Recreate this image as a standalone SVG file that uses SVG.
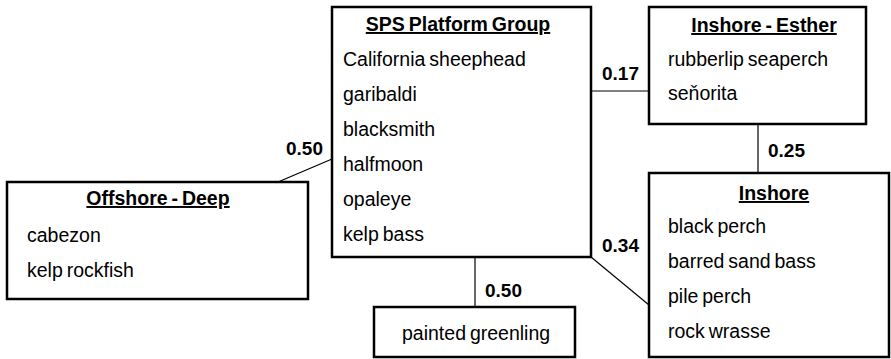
<svg xmlns="http://www.w3.org/2000/svg" width="891" height="359" viewBox="0 0 891 359">
<style>
.box{fill:#fff;stroke:#000;stroke-width:2.5}
.t{font-family:"Liberation Sans",Arial,sans-serif;font-size:19.5px;word-spacing:-1.5px;fill:#000}
.h{font-family:"Liberation Sans",Arial,sans-serif;font-size:19.5px;word-spacing:-1.5px;font-weight:bold;fill:#000;text-decoration:underline;text-anchor:middle}
.lab{font-family:"Liberation Sans",Arial,sans-serif;font-size:19px;font-weight:bold;fill:#000}
.c{stroke:#000;stroke-width:1.2;fill:none}
</style>
<rect width="891" height="359" fill="#fff"/>
<g id="connectors">
<line class="c" x1="332" y1="159" x2="278" y2="182"/>
<line class="c" x1="591" y1="91" x2="649" y2="91"/>
<line class="c" x1="758" y1="124" x2="758" y2="173"/>
<line class="c" x1="591" y1="257" x2="649" y2="305"/>
<line class="c" x1="475" y1="257" x2="475" y2="307"/>
<text class="lab" x="286" y="155">0.50</text>
<text class="lab" x="602" y="80">0.17</text>
<text class="lab" x="768" y="157">0.25</text>
<text class="lab" x="602" y="252">0.34</text>
<text class="lab" x="485" y="297">0.50</text>
</g>
<g id="sps">
<rect class="box" x="332" y="7" width="259" height="250"/>
<text class="h" x="458" y="31">SPS Platform Group</text>
<text class="t" x="343" y="66">California sheephead</text>
<text class="t" x="343" y="101">garibaldi</text>
<text class="t" x="343" y="136">blacksmith</text>
<text class="t" x="343" y="171">halfmoon</text>
<text class="t" x="343" y="206">opaleye</text>
<text class="t" x="343" y="241">kelp bass</text>
</g>
<g id="offshore-deep">
<rect class="box" x="7" y="182" width="301" height="117"/>
<text class="h" x="158" y="205">Offshore - Deep</text>
<text class="t" x="27" y="242">cabezon</text>
<text class="t" x="27" y="277">kelp rockfish</text>
</g>
<g id="inshore-esther">
<rect class="box" x="649" y="7" width="217" height="117"/>
<text class="h" x="764" y="32">Inshore - Esther</text>
<text class="t" x="668" y="66">rubberlip seaperch</text>
<text class="t" x="668" y="100">seňorita</text>
</g>
<g id="inshore">
<rect class="box" x="649" y="173" width="240" height="184"/>
<text class="h" x="774" y="200">Inshore</text>
<text class="t" x="668" y="233">black perch</text>
<text class="t" x="668" y="268">barred sand bass</text>
<text class="t" x="668" y="303">pile perch</text>
<text class="t" x="668" y="338">rock wrasse</text>
</g>
<g id="painted-greenling">
<rect class="box" x="374" y="307" width="201" height="50"/>
<text class="t" x="402" y="340">painted greenling</text>
</g>
</svg>
